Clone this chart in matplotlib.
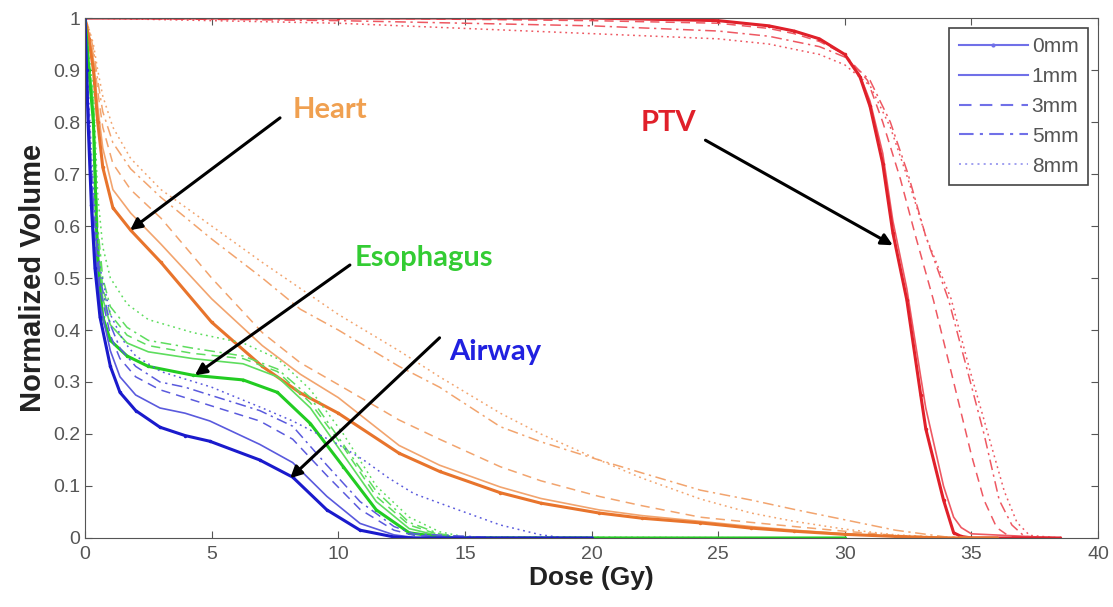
import matplotlib.pyplot as plt
from matplotlib.lines import Line2D

plt.rcParams['font.family'] = ['Liberation Sans', 'DejaVu Sans']

margins = ['0mm', '1mm', '3mm', '5mm', '8mm']

# Airway
airway_dose = [0, 0.06, 0.12, 0.25, 0.39, 0.59, 1, 1.38, 2, 2.96, 3.95, 4.93, 6.9, 8.2, 9.55, 10.86, 12.2, 13, 16, 20]
airway_0mm = [1, 0.9, 0.8, 0.64, 0.52, 0.425, 0.33, 0.28, 0.245, 0.213, 0.197, 0.186, 0.15, 0.117, 0.054, 0.015, 0.002, 0, 0, 0]
airway_1mm = [1, 0.91, 0.82, 0.67, 0.55, 0.45, 0.36, 0.31, 0.275, 0.25, 0.24, 0.225, 0.18, 0.145, 0.08, 0.028, 0.006, 0.001, 0, 0]
airway_3mm = [1, 0.92, 0.84, 0.7, 0.58, 0.48, 0.39, 0.345, 0.31, 0.285, 0.27, 0.255, 0.225, 0.19, 0.12, 0.055, 0.015, 0.005, 0, 0]
airway_5mm = [1, 0.92, 0.85, 0.71, 0.6, 0.5, 0.41, 0.365, 0.33, 0.3, 0.29, 0.275, 0.245, 0.215, 0.14, 0.07, 0.022, 0.008, 0.001, 0]
airway_8mm_dose = [0, 0.06, 0.12, 0.25, 0.39, 0.59, 1, 1.5, 2, 3, 5, 7, 8.2, 10, 11, 12, 13, 14.4, 16.4, 18, 19, 20]
airway_8mm = [1, 0.93, 0.87, 0.74, 0.63, 0.52, 0.43, 0.38, 0.35, 0.32, 0.29, 0.25, 0.225, 0.18, 0.15, 0.115, 0.085, 0.06, 0.025, 0.006, 0, 0]

# Esophagus
eso_dose = [0, 0.15, 0.33, 0.5, 0.7, 1, 1.66, 2.5, 4.26, 6.24, 7.6, 8.9, 10.2, 11.5, 12.8, 14, 15, 30]
eso_0mm = [1, 0.9, 0.8, 0.52, 0.425, 0.38, 0.35, 0.33, 0.313, 0.304, 0.28, 0.22, 0.137, 0.054, 0.01, 0.002, 0, 0]
eso_1mm = [1, 0.91, 0.82, 0.56, 0.46, 0.41, 0.375, 0.358, 0.345, 0.335, 0.31, 0.25, 0.16, 0.07, 0.018, 0.004, 0, 0]
eso_3mm = [1, 0.92, 0.83, 0.58, 0.48, 0.43, 0.39, 0.37, 0.355, 0.345, 0.32, 0.26, 0.175, 0.08, 0.025, 0.006, 0.001, 0]
eso_5mm = [1, 0.92, 0.84, 0.6, 0.5, 0.445, 0.405, 0.38, 0.365, 0.35, 0.325, 0.27, 0.18, 0.09, 0.03, 0.008, 0.001, 0]
eso_8mm = [1, 0.93, 0.86, 0.66, 0.56, 0.5, 0.45, 0.42, 0.395, 0.375, 0.345, 0.285, 0.2, 0.1, 0.04, 0.012, 0.002, 0]

# Heart
heart_dose = [0, 0.15, 0.33, 0.5, 0.7, 1.1, 1.8, 3, 5, 7, 8.5, 10, 12.4, 14, 16.4, 18, 20.3, 22, 24.3, 26.3, 28, 30, 32, 34, 36]
heart_0mm = [1, 0.96, 0.9, 0.8, 0.713, 0.635, 0.592, 0.53, 0.415, 0.33, 0.279, 0.24, 0.163, 0.128, 0.087, 0.067, 0.048, 0.038, 0.029, 0.019, 0.013, 0.007, 0.003, 0, 0]
heart_1mm = [1, 0.97, 0.92, 0.83, 0.75, 0.67, 0.625, 0.565, 0.46, 0.37, 0.315, 0.27, 0.178, 0.14, 0.098, 0.076, 0.054, 0.043, 0.032, 0.022, 0.015, 0.008, 0.003, 0, 0]
heart_3mm = [1, 0.97, 0.93, 0.86, 0.79, 0.72, 0.67, 0.615, 0.5, 0.395, 0.337, 0.295, 0.227, 0.19, 0.137, 0.11, 0.08, 0.062, 0.04, 0.03, 0.022, 0.013, 0.005, 0.001, 0]
heart_5mm = [1, 0.98, 0.94, 0.88, 0.82, 0.76, 0.71, 0.655, 0.575, 0.5, 0.44, 0.4, 0.33, 0.29, 0.214, 0.185, 0.15, 0.125, 0.092, 0.073, 0.055, 0.035, 0.015, 0.002, 0]
heart_8mm = [1, 0.98, 0.95, 0.9, 0.85, 0.79, 0.73, 0.67, 0.6, 0.53, 0.48, 0.43, 0.36, 0.31, 0.24, 0.2, 0.15, 0.115, 0.075, 0.048, 0.032, 0.017, 0.006, 0.001, 0]

# PTV
ptv_dose_a = [0, 10, 20, 25, 27, 28, 29, 30, 30.6, 31, 31.5, 31.9, 32.45, 33, 33.2, 33.9, 34.3, 34.6, 35, 38.5]
ptv_0mm = [1, 1, 1, 0.995, 0.985, 0.975, 0.96, 0.93, 0.887, 0.83, 0.72, 0.587, 0.458, 0.275, 0.21, 0.073, 0.01, 0.003, 0, 0]
ptv_1mm = [1, 1, 1, 0.995, 0.985, 0.975, 0.96, 0.93, 0.89, 0.84, 0.74, 0.61, 0.48, 0.31, 0.25, 0.1, 0.04, 0.02, 0.008, 0]
ptv_dose_b = [0, 10, 20, 25, 27, 28, 29, 30, 30.9, 31.5, 32.2, 32.8, 33.5, 34.2, 35.0, 35.5, 36, 36.5, 38.5]
ptv_3mm = [1, 1, 0.995, 0.99, 0.98, 0.97, 0.955, 0.93, 0.88, 0.8, 0.69, 0.58, 0.458, 0.32, 0.16, 0.073, 0.02, 0.003, 0]
ptv_dose_c = [0, 10, 20, 25, 27, 28, 29, 30, 31, 31.8, 32.5, 33.2, 34.1, 34.8, 35.5, 36.1, 36.6, 37.1, 38.5]
ptv_5mm = [1, 0.995, 0.985, 0.975, 0.965, 0.955, 0.945, 0.925, 0.88, 0.8, 0.7, 0.58, 0.458, 0.33, 0.2, 0.073, 0.025, 0.003, 0]
ptv_dose_d = [0, 10, 20, 25, 27, 28, 29, 30, 31, 31.8, 32.5, 33.2, 34.2, 34.9, 35.6, 36.3, 36.8, 37.3, 38.5]
ptv_8mm = [1, 0.99, 0.97, 0.96, 0.95, 0.94, 0.93, 0.91, 0.87, 0.79, 0.69, 0.58, 0.46, 0.33, 0.21, 0.09, 0.03, 0.005, 0]

styles = ['-', '-', (0, (6, 4)), (0, (7, 3, 1.5, 3)), (0, (1.2, 2.5))]

structures = [
    # main colour, light colour, dose per margin, volumes per margin
    ('#E0202A', '#EE5862', [ptv_dose_a, ptv_dose_a, ptv_dose_b, ptv_dose_c, ptv_dose_d],
     [ptv_0mm, ptv_1mm, ptv_3mm, ptv_5mm, ptv_8mm]),
    ('#E8742C', '#F2A46E', [heart_dose] * 5,
     [heart_0mm, heart_1mm, heart_3mm, heart_5mm, heart_8mm]),
    ('#22CC22', '#5EDD5E', [eso_dose] * 5,
     [eso_0mm, eso_1mm, eso_3mm, eso_5mm, eso_8mm]),
    ('#1A1ACC', '#5A5ADD', [airway_dose] * 4 + [airway_8mm_dose],
     [airway_0mm, airway_1mm, airway_3mm, airway_5mm, airway_8mm]),
]

fig = plt.figure(figsize=(11.13, 6.07), dpi=100)
ax = fig.add_axes([0.0764, 0.1137, 0.9101, 0.8566])

for main, light, doses, vols in structures:
    for i in range(4, -1, -1):
        if i == 0:
            ax.plot(doses[i], vols[i], color=main, lw=2.2, ls='-', marker='.', ms=3)
        else:
            ax.plot(doses[i], vols[i], color=light, lw=1.2 if i == 1 else 1.1, ls=styles[i])

ax.set_xlim(0, 40)
ax.set_ylim(0, 1)
ax.set_xticks(range(0, 41, 5))
ax.set_yticks([0, 0.1, 0.2, 0.3, 0.4, 0.5, 0.6, 0.7, 0.8, 0.9, 1])
ax.set_yticklabels(['0', '0.1', '0.2', '0.3', '0.4', '0.5', '0.6', '0.7', '0.8', '0.9', '1'])
ax.tick_params(direction='in', top=True, right=True, length=5, labelsize=14,
               labelcolor='#555555', color='#555555')
ax.tick_params(axis='x', pad=6)
for s in ax.spines.values():
    s.set_color('#555555')
ax.set_xlabel('Dose (Gy)', fontsize=19, fontweight='bold', color='#222222', labelpad=2)
ax.set_ylabel('Normalized Volume', fontsize=21, fontweight='bold', color='#222222', labelpad=4)

# annotations
arrow = dict(arrowstyle='-|>', lw=2.2, color='black', mutation_scale=17, shrinkA=0, shrinkB=0)
ax.annotate('', xy=(1.78, 0.592), xytext=(7.7, 0.808), arrowprops=arrow)
ax.annotate('', xy=(4.34, 0.313), xytext=(10.46, 0.525), arrowprops=arrow)
ax.annotate('', xy=(8.1, 0.115), xytext=(14.0, 0.385), arrowprops=arrow)
ax.annotate('', xy=(31.9, 0.563), xytext=(24.5, 0.765), arrowprops=arrow)

lab = dict(fontsize=21, fontweight='bold', ha='center', va='center', family=['Lato', 'DejaVu Sans'])
ax.text(9.67, 0.823, 'Heart', color='#F0A050', **lab)
ax.text(13.4, 0.538, 'Esophagus', color='#33CC33', **lab)
ax.text(16.2, 0.358, 'Airway', color='#2020E0', **lab)
ax.text(23.05, 0.798, 'PTV', color='#E0202A', **lab)

handles = [
    Line2D([], [], color='#7070E8', lw=1.5, ls='-', marker='.', ms=4),
    Line2D([], [], color='#7070E8', lw=1.5, ls='-'),
    Line2D([], [], color='#7070E8', lw=1.5, ls=styles[2]),
    Line2D([], [], color='#7070E8', lw=1.5, ls=styles[3]),
    Line2D([], [], color='#9090EE', lw=1.2, ls=styles[4]),
]
leg = ax.legend(handles, margins, loc='upper right', bbox_to_anchor=(0.99, 0.981),
                borderaxespad=0, fancybox=False, edgecolor='#444444', fontsize=15,
                handlelength=3.3, handletextpad=0.2, labelspacing=0.52, borderpad=0.45,
                framealpha=1)
leg.get_frame().set_linewidth(1.2)
for t in leg.get_texts():
    t.set_color('#555555')

fig.savefig('out.png', dpi=100)
